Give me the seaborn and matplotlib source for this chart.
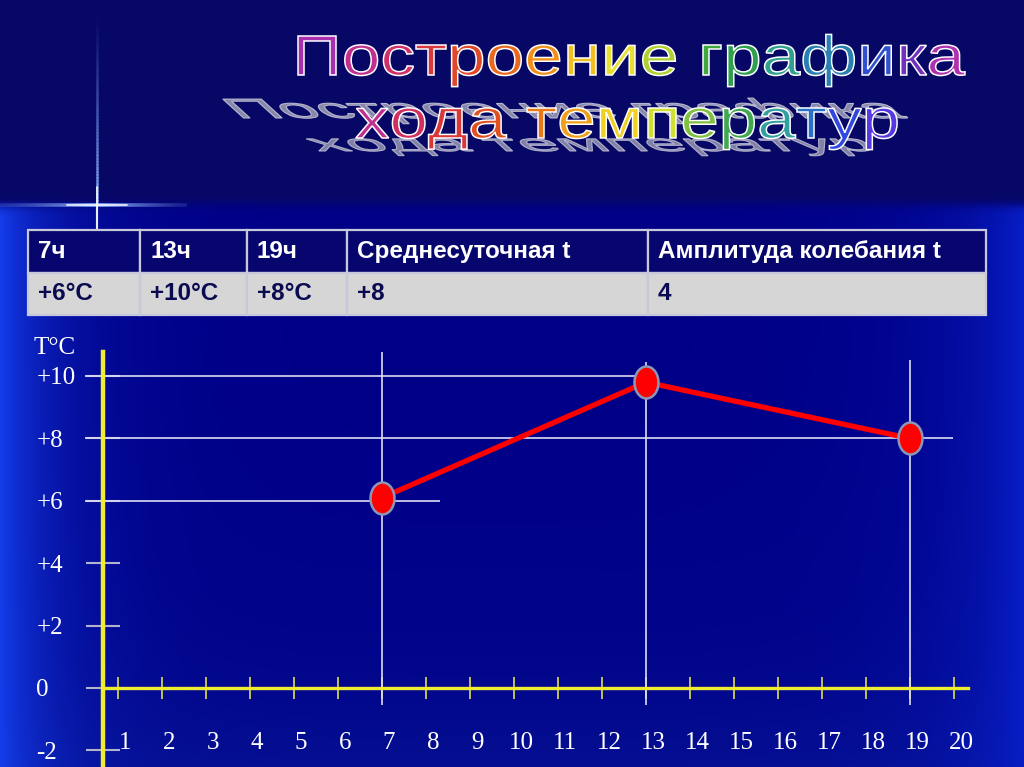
import numpy as np
import pandas as pd
import matplotlib
matplotlib.use("Agg")
import matplotlib.pyplot as plt
import seaborn as sns
from matplotlib.path import Path
from matplotlib.patches import PathPatch
from matplotlib.textpath import TextPath
from matplotlib.collections import LineCollection
from matplotlib.font_manager import FontProperties, findfont, get_font
from matplotlib.transforms import Affine2D, ScaledTranslation

# values
hours = [7, 13, 19]
temps = [6.1, 9.8, 8.0]
ref_temps = [6, 10, 8]          # table values, drawn as thin helper lines
x_ticks = list(range(1, 21))
y_ticks = [-2, 0, 2, 4, 6, 8, 10]
y_labels = ["-2", "0", "+2", "+4", "+6", "+8", "+10"]
table_header = ["7ч", "13ч", "19ч", "Среднесуточная t", "Амплитуда колебания t"]
table_values = ["+6°C", "+10°C", "+8°C", "+8", "4"]
title_1 = "Построение графика"
title_2 = "хода температур"

# rainbow letters of the word-art title
colors_1 = ["#a830b0", "#c03090", "#d03068", "#d83840", "#e04828", "#e86820",
            "#f09018", "#f0c020", "#e8e030", "#b0d030", "#000000", "#40a840",
            "#30a050", "#30a090", "#2880b0", "#3050d0", "#7030c0", "#b030b0"]
colors_2 = ["#c03090", "#d03060", "#d83838", "#e05020", "#000000", "#e87818",
            "#f0a018", "#f0d020", "#d0e030", "#80c040", "#40a850", "#30a0a0",
            "#2870c8", "#3048e0", "#5838e0"]

W, H = 1024, 767
sns.set_theme(style="white")
plt.rcParams["font.family"] = ["Liberation Serif", "DejaVu Serif"]

fig = plt.figure(figsize=(W / 100, H / 100), dpi=100)

# ---- background: dark top band, blue slide with lighter edges
ys = np.arange(H)[:, None].astype(float)
xs = np.arange(W)[None, :].astype(float)
base = np.array([0.0, 0.0, 0.53])
top_c = np.array([0.03, 0.03, 0.40])
left_c = np.array([0.08, 0.24, 0.92])
right_c = np.array([0.03, 0.12, 0.78])
t_top = 1 / (1 + np.exp((ys - 203) / 3))
g_left = (np.exp(-xs / 55) * (1 - t_top))[..., None]
g_right = (np.exp(-(W - xs) / 70) * (1 - t_top))[..., None]
g_bot = (0.35 * np.exp(-(H - ys) / 120) * np.ones_like(xs))[..., None]
img = np.ones((H, W, 3)) * base
img = img * (1 - g_bot) + left_c * 0.7 * g_bot
img = img * (1 - g_right) + right_c * g_right
img = img * (1 - g_left) + left_c * g_left
img = img * (1 - t_top[..., None]) + top_c * t_top[..., None]

bg = fig.add_axes([0, 0, 1, 1])
bg.imshow(np.clip(img, 0, 1), extent=[0, W, H, 0], aspect="auto", zorder=0)
bg.set_autoscale_on(False)
bg.set_xlim(0, W)
bg.set_ylim(H, 0)
bg.axis("off")

# lens flare: thin cross fading away from (97, 205)
cx, cy = 97, 205
t = np.linspace(0, 1, 60)
segs, alphas, widths = [], [], []
for a0, a1 in zip(t[:-1], t[1:]):
    for sgn, reach in ((-1, 97), (1, 90)):
        segs.append([(cx + sgn * a0 * reach, cy), (cx + sgn * a1 * reach, cy)])
        alphas.append(0.15 + 0.85 * (1 - a0) ** 1.3)
        widths.append(2.6)
    segs.append([(cx, cy - a0 * 190), (cx, cy - a1 * 190)])
    alphas.append((1 - a0) ** 1.2)
    widths.append(1.8)
    segs.append([(cx, cy + a0 * 25), (cx, cy + a1 * 25)])
    alphas.append(0.9)
    widths.append(1.6)
cols = [(0.55, 0.7, 1.0, a) for a in alphas]
bg.add_collection(LineCollection(segs, colors=cols, linewidths=widths))
bg.plot([cx - 30, cx + 30], [cy, cy], color="white", lw=1.3, alpha=0.8)
bg.plot([cx, cx], [cy - 18, cy + 25], color="white", lw=1.3, alpha=0.9)


# ---- word-art title
def word_art(text, colors, left, baseline, width, em, sy=1.0, shear=0.0,
             edge="white", alpha=1.0, lw=1.1):
    prop = FontProperties(family="Liberation Sans")
    font = get_font(findfont(prop))
    font.set_size(em, 72)
    adv = [font.load_char(ord(c)).linearHoriAdvance / 65536 for c in text]
    sx = width / sum(adv)
    x = left
    for c, a, col in zip(text, adv, colors):
        if c != " ":
            path = TextPath((0, 0), c, size=em, prop=prop)
            tr = (Affine2D().scale(sx, -sy)
                  + Affine2D([[1, shear, 0], [0, 1, 0], [0, 0, 1]])
                  + Affine2D().translate(x, baseline) + bg.transData)
            bg.add_patch(PathPatch(path, transform=tr, fc=col, ec=edge, lw=lw, alpha=alpha))
        x += a * sx


# slanted grey shadow first, then the coloured lines
word_art(title_1, ["#a0a0b8"] * len(title_1), 238, 118, 670, 50, sy=0.55, shear=1.1,
         edge="#c8c8dc", alpha=0.85, lw=0.8)
word_art(title_2, ["#a0a0b8"] * len(title_2), 318, 151, 560, 46, sy=0.5, shear=1.1,
         edge="#c8c8dc", alpha=0.8, lw=0.8)
word_art(title_1, colors_1, 292, 75, 673, 56)
word_art(title_2, colors_2, 355, 138, 545, 56)

# ---- table
col_px = [112, 107, 100, 301, 338]
tax = fig.add_axes([28 / W, 1 - 315 / H, 958 / W, 85 / H])
tax.axis("off")
tbl = tax.table(cellText=[table_values], colLabels=table_header,
                colWidths=[c / sum(col_px) for c in col_px],
                cellLoc="left", colLoc="left", bbox=[0, 0, 1, 1])
tbl.auto_set_font_size(False)
for (r, c), cell in tbl.get_celld().items():
    cell.set_edgecolor("#c8c8dc")
    cell.set_linewidth(1.6)
    cell.PAD = 10 / col_px[c]
    txt = cell.get_text()
    txt.set_fontsize(17.5)
    txt.set_fontweight("bold")
    txt.set_fontfamily("Liberation Sans")
    if r == 0:
        cell.set_facecolor("#06066e")
        txt.set_color("white")
    else:
        cell.set_facecolor("#d6d6d6")
        txt.set_color("#0a0a50")

# ---- the chart itself
ax = fig.add_axes([103 / W, 0, 865 / W, 415 / H])
ax.patch.set_alpha(0)

df = pd.DataFrame({"hour": hours, "temp": temps})

# helper lines from the table readings
ax.hlines(ref_temps, xmin=0.25, xmax=[8.32, 13.09, 19.98], color="#dcdcf4",
          lw=1.2, clip_on=False, zorder=2)
ax.vlines(hours, ymin=-0.545, ymax=[10.77, 10.45, 10.51], color="#dcdcf4",
          lw=1.2, clip_on=False, zorder=2)

circle = Path.unit_circle()
ellipse = Path(Affine2D().scale(0.75, 1).transform(circle.vertices), circle.codes)
sns.lineplot(data=df, x="hour", y="temp", ax=ax, color="red", lw=3.8,
             marker=ellipse, markersize=23, markerfacecolor="red",
             markeredgecolor="#8c96b8", markeredgewidth=1.8, zorder=5)

ax.set_xlim(0.659, 20.318)
ax.set_ylim(-2.532, 10.769)
ax.set_xlabel("")
ax.set_ylabel("")

for side in ["top", "right"]:
    ax.spines[side].set_visible(False)
ax.spines["left"].set_color("#f0ec30")
ax.spines["left"].set_linewidth(3.2)
ax.spines["bottom"].set_color("#f0ec30")
ax.spines["bottom"].set_linewidth(2.4)
ax.spines["bottom"].set_position(("data", 0))

ax.set_xticks(x_ticks)
ax.set_xticklabels([str(v) for v in x_ticks])
ax.set_yticks(y_ticks)
ax.set_yticklabels(y_labels)
ax.tick_params(axis="x", bottom=True, direction="inout", length=16, width=1.2,
               color="#e0dc50", pad=24, labelsize=18, labelcolor="white")
ax.tick_params(axis="y", left=True, direction="inout", length=24, width=1.5,
               color="#b0b4cc", pad=36, labelsize=18, labelcolor="white")
for lab in ax.get_yticklabels():
    lab.set_horizontalalignment("left")
# the slide's hour labels sit a little right of their ticks
shift = ScaledTranslation(7 / 100, 0, fig.dpi_scale_trans)
for lab in ax.get_xticklabels():
    lab.set_transform(lab.get_transform() + shift)

bg.text(33, 348, "T°C", color="white", fontsize=18, va="center", ha="left")

fig.savefig("out.png", dpi=100)
